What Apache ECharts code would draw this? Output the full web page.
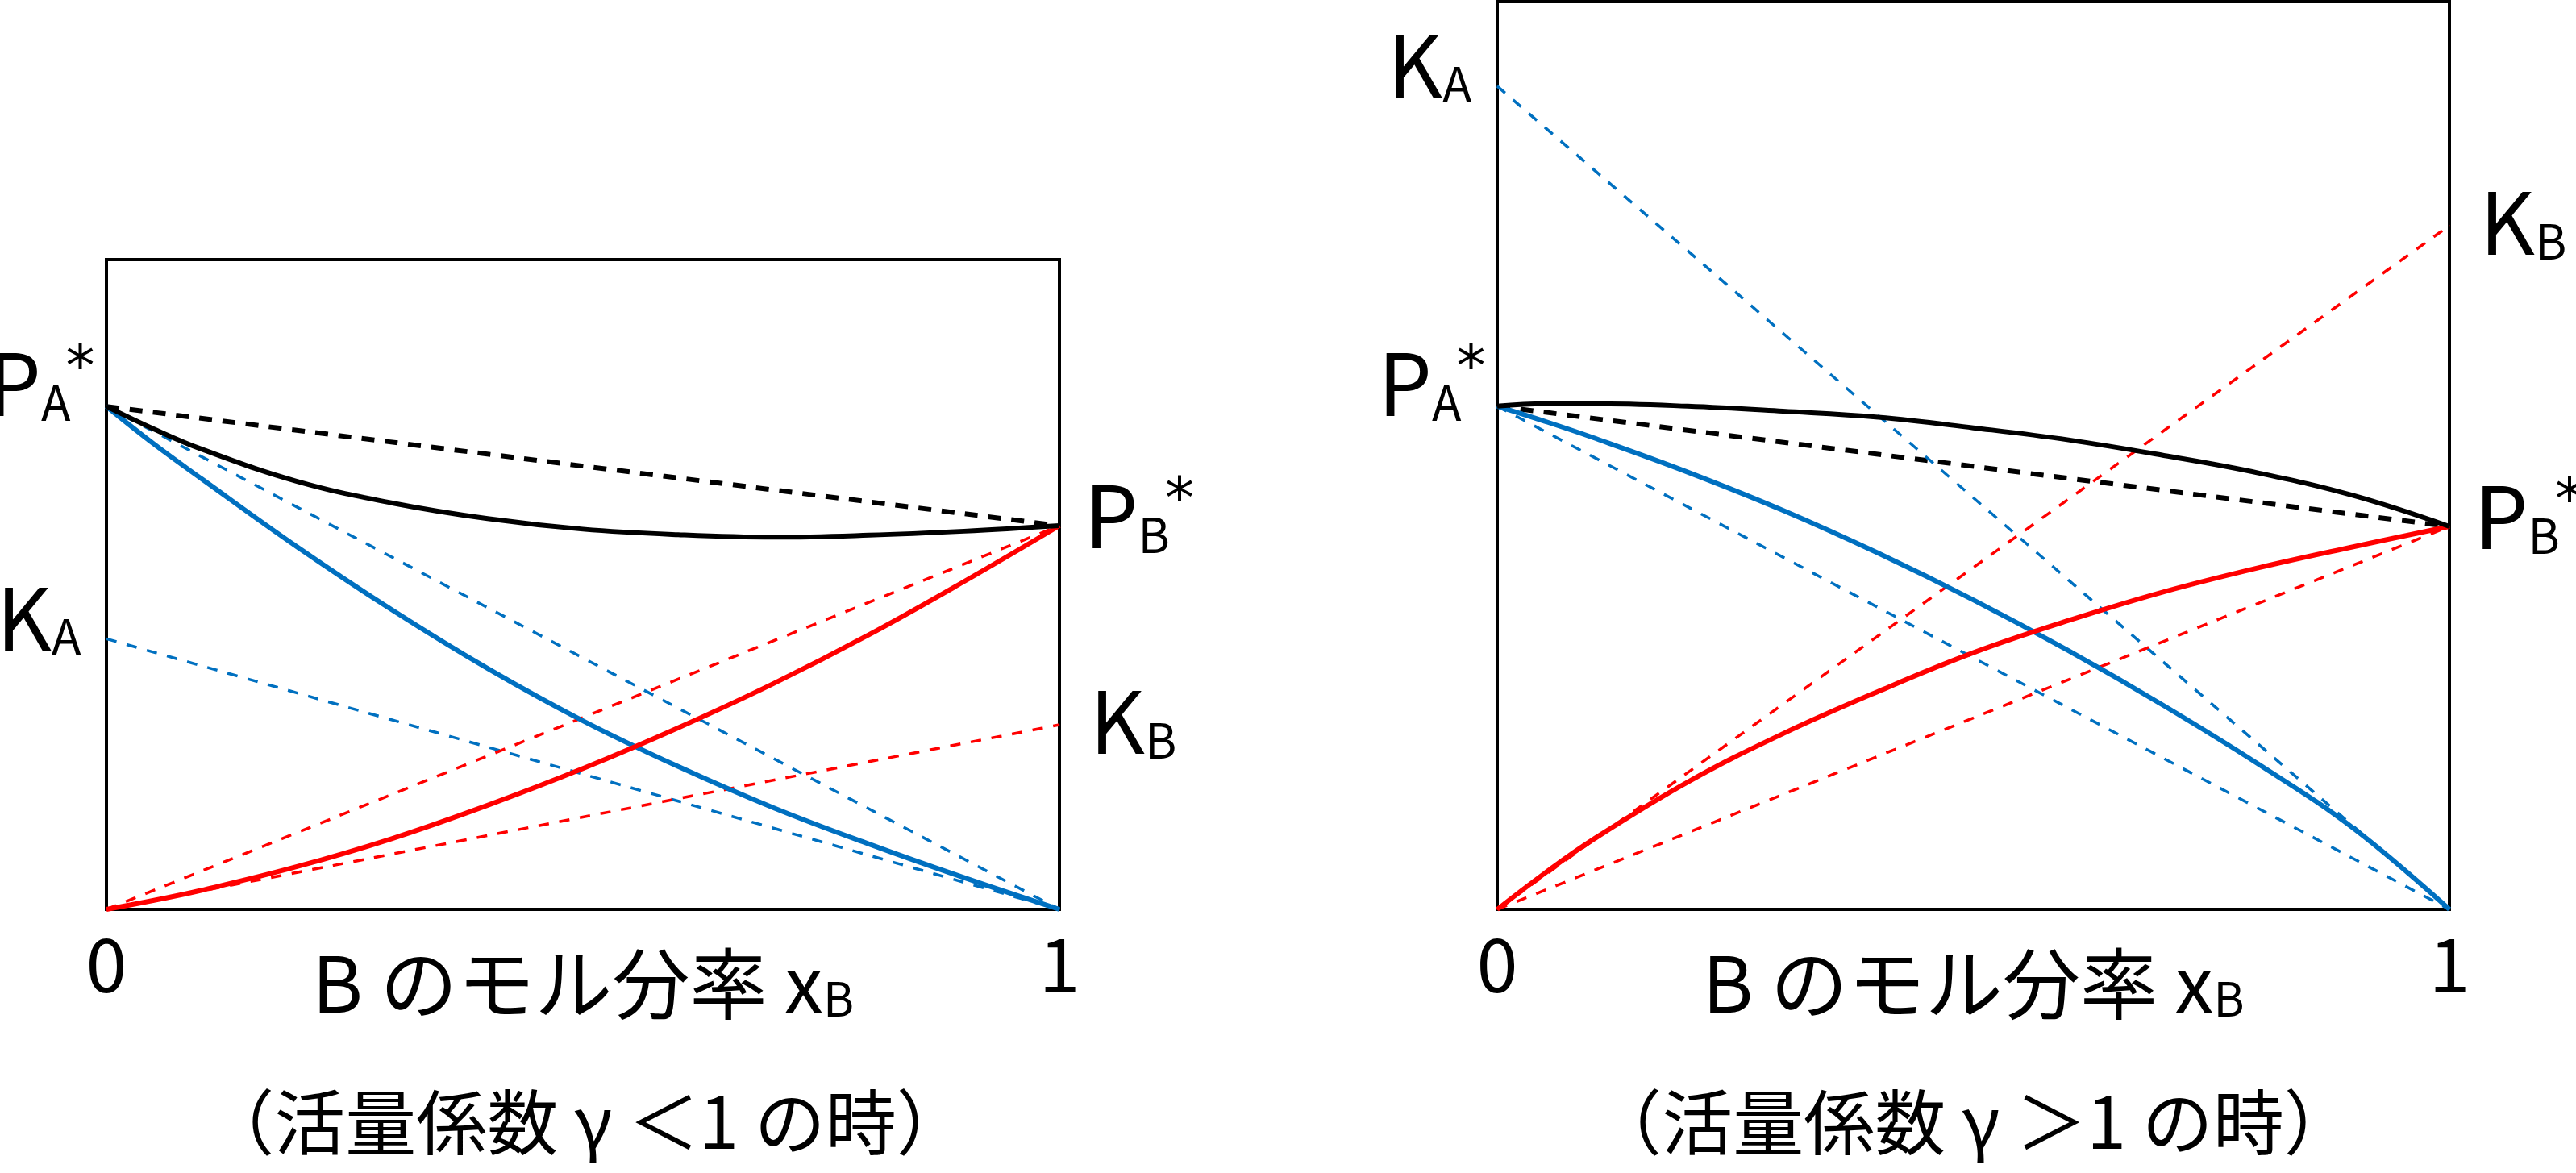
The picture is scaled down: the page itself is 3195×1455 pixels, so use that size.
<!DOCTYPE html>
<html>
<head>
<meta charset="utf-8">
<script src="https://cdn.jsdelivr.net/npm/echarts@6/dist/echarts.min.js"></script>
<style>
html,body{margin:0;padding:0;background:#fff;}
#chart{width:3195px;height:1455px;}
</style>
</head>
<body>
<div id="chart"></div>
<script>
// x_B sampling points
var xB = [0, 0.05, 0.1, 0.2, 0.3, 0.4, 0.5, 0.6, 0.7, 0.8, 0.9, 1];

// gamma < 1 (left)
var ltTotal = [100, 95.5, 91.5, 85.1, 80.8, 77.7, 75.6, 74.5, 74.0, 74.4, 75.2, 76.3];
var ltPA    = [100, 92.5, 85.6, 72.1, 59.5, 47.9, 37.5, 28.4, 20.2, 13.0, 6.3, 0];
var ltPB    = [0, 1.8, 3.8, 8.5, 14.1, 20.7, 28.0, 36.1, 44.9, 54.6, 65.2, 76.3];
var ltPAstar = 100, ltPBstar = 76.3, ltKA = 53.8, ltKB = 36.7, ltYmax = 129.2;

// gamma > 1 (right)
var gtTotal = [100, 100.5, 100.5, 100, 99.0, 97.8, 95.7, 93.3, 90.2, 86.7, 82.2, 76.1];
var gtPA    = [100, 97.0, 93.8, 86.9, 79.3, 70.8, 61.5, 51.4, 40.5, 28.8, 16.0, 0];
var gtPB    = [0, 7.2, 13.8, 25.3, 34.9, 43.3, 51.0, 57.4, 63.1, 67.9, 72.1, 76.1];
var gtPAstar = 100, gtPBstar = 76.1, gtKA = 163.6, gtKB = 135.9, gtYmax = 180.4;

var FONT = '"Noto Sans CJK JP", "Noto Sans", sans-serif';
var BLUE = '#0070c0', RED = '#ff0000';

var rich = {
	m: {fontSize: 106, fontFamily: FONT, color: '#000', lineHeight: 106},
	s: {fontSize: 60, fontFamily: FONT, color: '#000', verticalAlign: 'bottom', lineHeight: 50},
	t: {fontSize: 72, fontFamily: 'DejaVu Sans', color: '#000', verticalAlign: 'top', lineHeight: 44, padding: [0, 0, 0, -6]}
};

function pair(xs, ys){
	var out = [];
	for (var i = 0; i < xs.length; i++) out.push([xs[i], ys[i]]);
	return out;
}
function lbl(text, pos, dist, dy){
	return {show: true, position: pos, distance: dist, offset: [0, dy], formatter: text, rich: rich};
}
function solid(idx, data, color){
	return {type: 'line', xAxisIndex: idx, yAxisIndex: idx, data: data, smooth: 0.4,
		showSymbol: false, symbol: 'none', z: 5, silent: true,
		lineStyle: {color: color, width: 6}};
}
function dashed(idx, data, color, w, dash){
	return {type: 'line', xAxisIndex: idx, yAxisIndex: idx, data: data,
		symbol: 'circle', symbolSize: 1, showSymbol: true, z: 3, silent: true,
		itemStyle: {color: color}, label: {show: false},
		lineStyle: {color: color, width: w, type: dash}};
}

function panel(idx, pa, pb, ka, kb, total, partA, partB){
	var list = [];
	var raoultTotal = dashed(idx, [
		{value: [0, pa], label: lbl('{m|P}{s|A}{t|*}', 'left', 14, -28)},
		{value: [1, pb], label: lbl('{m|P}{s|B}{t|*}', 'right', 30, -12)}
	], '#000', 6, [16, 13]);
	var henryA = dashed(idx, [
		{value: [0, ka], label: lbl('{m|K}{s|A}', 'left', 31, -26)},
		[1, 0]
	], BLUE, 3.5, [13, 13]);
	var henryB = dashed(idx, [
		[0, 0],
		{value: [1, kb], label: lbl('{m|K}{s|B}', 'right', 37, -4)}
	], RED, 3.5, [13, 13]);
	list.push(raoultTotal, henryA, henryB);
	list.push(dashed(idx, [[0, pa], [1, 0]], BLUE, 3.5, [13, 13]));
	list.push(dashed(idx, [[0, 0], [1, pb]], RED, 3.5, [13, 13]));
	list.push(solid(idx, pair(xB, partA), BLUE));
	list.push(solid(idx, pair(xB, partB), RED));
	list.push(solid(idx, pair(xB, total), '#000'));
	return list;
}

var xAxisName = '{a|B のモル分率 x}{b|B}';
function xAxisOpt(idx){
	return {
		type: 'value', gridIndex: idx, min: 0, max: 1, interval: 1,
		axisLine: {show: false}, axisTick: {show: false}, splitLine: {show: false},
		axisLabel: {fontSize: 92, fontFamily: FONT, color: '#000', margin: 22},
		name: xAxisName, nameLocation: 'middle', nameGap: 44, nameMoveOverlap: false,
		nameTextStyle: {
			rich: {
				a: {fontSize: 96, fontFamily: FONT, color: '#000', lineHeight: 96},
				b: {fontSize: 58, fontFamily: FONT, color: '#000', verticalAlign: 'bottom', lineHeight: 30}
			}
		}
	};
}
function yAxisOpt(idx, ymax){
	return {type: 'value', gridIndex: idx, min: 0, max: ymax, show: false, splitLine: {show: false}};
}

var chart = echarts.init(document.getElementById('chart'));
var option = {
	backgroundColor: '#fff',
	animation: false,
	grid: [
		{left: 132, top: 322, width: 1182, height: 806, show: true, borderColor: '#000', borderWidth: 4, backgroundColor: 'transparent'},
		{left: 1857, top: 2, width: 1181, height: 1126, show: true, borderColor: '#000', borderWidth: 4, backgroundColor: 'transparent'}
	],
	xAxis: [xAxisOpt(0), xAxisOpt(1)],
	yAxis: [yAxisOpt(0, ltYmax), yAxisOpt(1, gtYmax)],
	graphic: [
		{type: 'text', x: 726, y: 1348, style: {text: '（活量係数 γ ＜1 の時）', font: '88px ' + FONT, fill: '#000', align: 'center'}},
		{type: 'text', x: 2447, y: 1348, style: {text: '（活量係数 γ ＞1 の時）', font: '88px ' + FONT, fill: '#000', align: 'center'}}
	],
	series: panel(0, ltPAstar, ltPBstar, ltKA, ltKB, ltTotal, ltPA, ltPB)
		.concat(panel(1, gtPAstar, gtPBstar, gtKA, gtKB, gtTotal, gtPA, gtPB))
};
chart.setOption(option);
</script>
</body>
</html>
